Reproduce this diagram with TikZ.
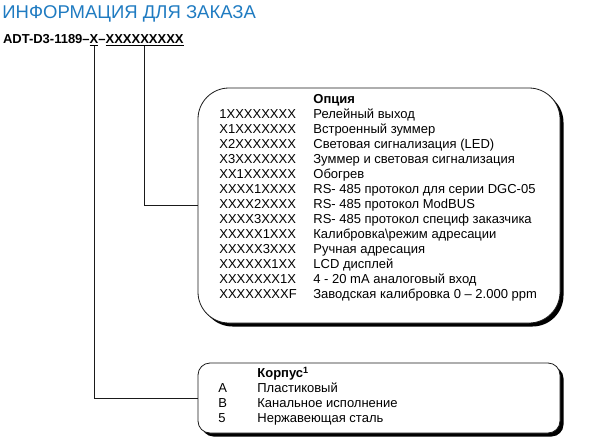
\documentclass[tikz,border=0pt]{standalone}
\usepackage{fontspec}
\setmainfont{Liberation Sans}
\usepackage{tikz}
\usetikzlibrary{positioning,shadows}
\definecolor{ord-blue}{HTML}{1F7BC1}
\definecolor{ord-line}{HTML}{1A1A1A}

\begin{document}
\begin{tikzpicture}[x=1pt, y=-1pt, thick,
  code/.style={inner sep=0pt, outer sep=0pt, font=\fontsize{13}{15}\selectfont\bfseries},
  optframe/.style={draw=ord-line, line width=0.8pt, fill=white, rounded corners=31pt,
    drop shadow={shadow xshift=3.5pt, shadow yshift=-3.5pt, fill=black, opacity=1}},
  caseframe/.style={optframe, rounded corners=12pt},
  listtext/.style={inner sep=0pt, anchor=north west, align=left, font=\fontsize{13}{15}\selectfont},
  wire/.style={draw=ord-line, line width=0.8pt}]
\useasboundingbox (0,0) rectangle (600,442);
\node[anchor=base west, inner sep=0pt, text=ord-blue, font=\fontsize{18.5}{20}\selectfont] (title) at (2,18) {ИНФОРМАЦИЯ ДЛЯ ЗАКАЗА};
\node[code, anchor=base west] (part) at (3,43.5) {ADT-D3-1189–};
\node[code, anchor=base west] (xcase) at (part.base east) {\underline{X}};
\node[code, anchor=base west] (sep) at (xcase.base east) {–};
\node[code, anchor=base west] (xopt) at (sep.base east) {\underline{XXXXXXXXX}};
\node[optframe, minimum width=362pt, minimum height=235pt] (optbox) at (379,205.5) {};
\node[caseframe, minimum width=362pt, minimum height=70pt] (casebox) at (379,398) {};
\node[listtext] (optlist) at (219,92.2) {%
\begin{tabular}{@{}p{94pt}@{}l@{}}
 & \textbf{Опция}\\
1XXXXXXXX & Релейный выход\\
X1XXXXXXX & Встроенный зуммер\\
X2XXXXXXX & Световая сигнализация (LED)\\
X3XXXXXXX & Зуммер и световая сигнализация\\
XX1XXXXXX & Обогрев\\
XXXX1XXXX & RS- 485 протокол для серии DGC-05\\
XXXX2XXXX & RS- 485 протокол ModBUS\\
XXXX3XXXX & RS- 485 протокол специф заказчика\\
XXXXX1XXX & Калибровка\textbackslash режим адресации\\
XXXXX3XXX & Ручная адресация\\
XXXXXX1XX & LCD дисплей\\
XXXXXXX1X & 4 - 20 mA аналоговый вход\\
XXXXXXXXF & Заводская калибровка 0 – 2.000 ppm
\end{tabular}};
\node[listtext] (caselist) at (218,366.5) {%
\begin{tabular}{@{}p{39pt}@{}l@{}}
 & \textbf{Корпус\textsuperscript{1}}\\
A & Пластиковый\\
B & Канальное исполнение\\
5 & Нержавеющая сталь
\end{tabular}};
\draw[wire] (xcase.south) |- (casebox.west);
\draw[wire] (xopt.south) |- (optbox.west);
\end{tikzpicture}
\end{document}
